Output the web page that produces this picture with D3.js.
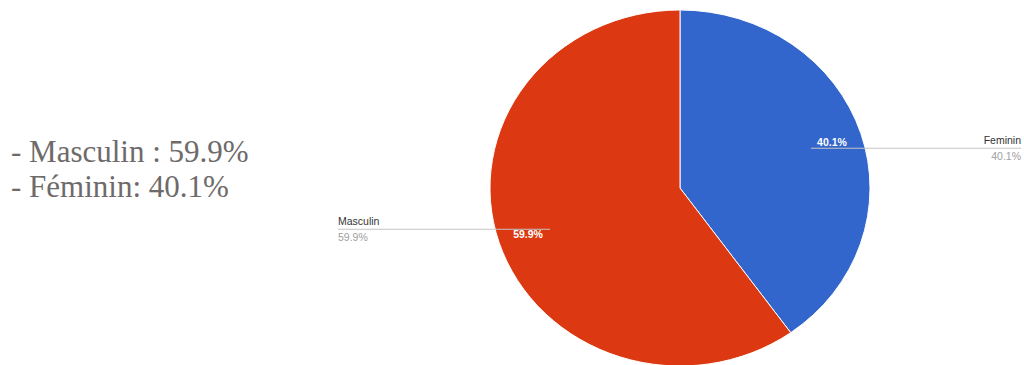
<!DOCTYPE html>
<html>
<head>
<meta charset="utf-8">
<script src="https://cdn.jsdelivr.net/npm/d3@7"></script>
<style>
  html, body { margin: 0; padding: 0; background: #fff; }
  svg { display: block; }
</style>
</head>
<body>
<svg id="chart" width="1024" height="365"></svg>
<script>
// Gender split
const categories = ["Feminin", "Masculin"];
const values = [40.1, 59.9];
const colors = ["#3366CC", "#DC3912"];
const summaryLines = ["- Masculin : 59.9%", "- Féminin: 40.1%"];

const svg = d3.select("#chart");

// Summary text on the left
svg.append("g")
  .selectAll("text")
  .data(summaryLines)
  .join("text")
  .attr("x", 11)
  .attr("y", (d, i) => 162 + i * 35)
  .attr("font-family", "'Liberation Serif', 'Times New Roman', serif")
  .attr("font-size", 31)
  .attr("fill", "#6e6a6a")
  .text(d => d);

// Pie (slightly flattened vertically)
const cx = 680, cy = 188, r = 190, squash = 178 / 190;
const pie = d3.pie().sort(null).value(d => d.value);
const arcs = pie(categories.map((c, i) => ({ name: c, value: values[i], color: colors[i] })));
const arc = d3.arc().innerRadius(0).outerRadius(r);
const labelArc = d3.arc().innerRadius(r * 0.84).outerRadius(r * 0.84);

const pieG = svg.append("g").attr("transform", `translate(${cx},${cy}) scale(1,${squash})`);
pieG.selectAll("path")
  .data(arcs)
  .join("path")
  .attr("d", arc)
  .attr("fill", d => d.data.color)
  .attr("stroke", "#ffffff")
  .attr("stroke-width", 1);

const fmt = v => v.toFixed(1) + "%";
const toScreen = p => [cx + p[0], cy + p[1] * squash];
const labelFont = "'Liberation Sans', Arial, sans-serif";

// Leader lines and outer labels
const leaderSpec = {
  Feminin: { endX: 1021, dy: 2.5, inset: -21 },
  Masculin: { endX: 338, dy: -8, inset: 22 }
};
const leaders = svg.append("g");
arcs.forEach(a => {
  const [lx, ly] = toScreen(labelArc.centroid(a));
  const spec = leaderSpec[a.data.name];
  const right = lx > cx;
  const lineY = ly + 3.5 + spec.dy;
  leaders.append("line")
    .attr("x1", lx + spec.inset).attr("x2", spec.endX)
    .attr("y1", lineY).attr("y2", lineY)
    .attr("stroke", "#c4c4c4").attr("stroke-width", 1);
  leaders.append("text")
    .attr("x", spec.endX).attr("y", lineY - 4)
    .attr("text-anchor", right ? "end" : "start")
    .attr("font-family", labelFont)
    .attr("font-size", 10.5)
    .attr("fill", "#333")
    .text(a.data.name);
  leaders.append("text")
    .attr("x", spec.endX).attr("y", lineY + 11.5)
    .attr("text-anchor", right ? "end" : "start")
    .attr("font-family", labelFont)
    .attr("font-size", 10.5)
    .attr("fill", "#a0a0a0")
    .text(fmt(a.data.value));
});

// Percentages inside slices
svg.append("g")
  .selectAll("text")
  .data(arcs)
  .join("text")
  .attr("x", d => toScreen(labelArc.centroid(d))[0])
  .attr("y", d => toScreen(labelArc.centroid(d))[1] + 3.8)
  .attr("text-anchor", "middle")
  .attr("font-family", labelFont)
  .attr("font-size", 10.5)
  .attr("font-weight", "bold")
  .attr("fill", "#ffffff")
  .text(d => fmt(d.data.value));
</script>
</body>
</html>
